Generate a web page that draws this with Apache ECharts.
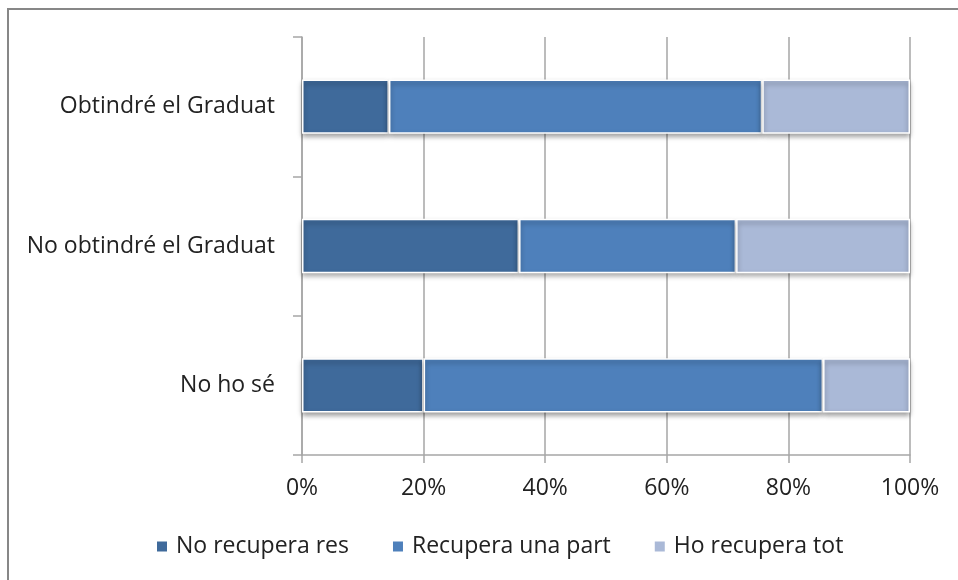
<!DOCTYPE html>
<html>
<head>
<meta charset="utf-8">
<script src="https://cdn.jsdelivr.net/npm/echarts@6/dist/echarts.min.js"></script>
<style>
  html, body { margin: 0; padding: 0; background: #ffffff; }
  #chart { width: 958px; height: 580px; }
</style>
</head>
<body>
<div id="chart"></div>
<script>
// categories, top to bottom
const categories = ["Obtindré el Graduat", "No obtindré el Graduat", "No ho sé"];
const seriesNames = ["No recupera res", "Recupera una part", "Ho recupera tot"];
// percentages per category
const noRecupera = [14.3, 35.7, 20.0];
const recuperaPart = [61.4, 35.7, 65.7];
const recuperaTot = [24.3, 28.6, 14.3];
const xTicks = [0, 20, 40, 60, 80, 100];

const colors = ["#3f6a9b", "#4e80bb", "#aab9d7"];
const font = "'Open Sans', 'Liberation Sans', sans-serif";
const gray = "#a6a6a6";

const chart = echarts.init(document.getElementById("chart"));

function barSeries(name, data) {
  return {
    name,
    type: "bar",
    stack: "total",
    barWidth: "39%",
    data,
    itemStyle: {
      borderColor: "#ffffff",
      borderWidth: 1.5,
      shadowColor: "rgba(0, 0, 0, 0.4)",
      shadowBlur: 5,
      shadowOffsetY: 3,
    },
  };
}

chart.setOption({
  color: colors,
  animation: false,
  textStyle: { fontFamily: font },
  graphic: [
    {
      type: "rect",
      shape: { x: 8, y: 9, width: 1000, height: 1000 },
      style: { fill: "none", stroke: "#878787", lineWidth: 2 },
      silent: true,
    },
  ],
  grid: { left: 302, right: 48, top: 37, bottom: 125 },
  legend: {
    bottom: 17,
    left: 150,
    icon: "rect",
    itemWidth: 12,
    itemHeight: 12,
    itemGap: 42,
    textStyle: { color: "#222222", fontSize: 23, fontFamily: font, padding: [0, 0, 0, 3] },
    data: seriesNames,
  },
  xAxis: {
    type: "value",
    min: 0,
    max: 100,
    interval: 20,
    axisLine: { show: true, lineStyle: { color: gray, width: 1.5 } },
    axisTick: { show: true, length: 8, lineStyle: { color: gray, width: 1.5 } },
    axisLabel: {
      color: "#222222",
      fontSize: 23,
      margin: 22,
      formatter: (v) => (xTicks.includes(v) ? v + "%" : ""),
    },
    splitLine: { show: true, lineStyle: { color: gray, width: 1.5 } },
  },
  yAxis: {
    type: "category",
    inverse: true,
    data: categories,
    axisLine: { show: true, lineStyle: { color: gray, width: 1.5 } },
    axisTick: { show: true, length: 9, lineStyle: { color: gray, width: 1.5 } },
    axisLabel: { color: "#222222", fontSize: 23, margin: 27 },
  },
  series: [
    barSeries(seriesNames[0], noRecupera),
    barSeries(seriesNames[1], recuperaPart),
    barSeries(seriesNames[2], recuperaTot),
  ],
});
</script>
</body>
</html>
